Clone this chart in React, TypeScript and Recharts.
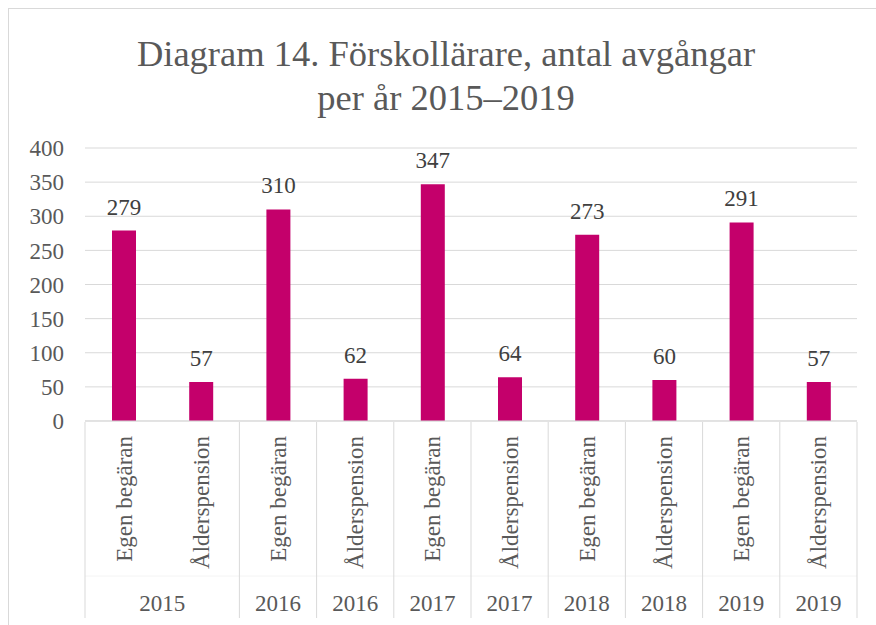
import { BarChart, Bar, XAxis, YAxis, CartesianGrid, LabelList } from "recharts";

const categories = [
  "Egen begäran", "Ålderspension", "Egen begäran", "Ålderspension", "Egen begäran",
  "Ålderspension", "Egen begäran", "Ålderspension", "Egen begäran", "Ålderspension",
];
const values = [279, 57, 310, 62, 347, 64, 273, 60, 291, 57];
const yearLabels = ["2015", "2015", "2016", "2016", "2017", "2017", "2018", "2018", "2019", "2019"];
// how many categories each year label covers (0 = merged into the one before)
const yearSpans = [2, 0, 1, 1, 1, 1, 1, 1, 1, 1];
const yTicks = [0, 50, 100, 150, 200, 250, 300, 350, 400];

const data = categories.map((name, i) => ({ key: i, name, value: values[i], year: yearLabels[i], span: yearSpans[i] }));

const FONT = '"Liberation Serif", "Times New Roman", serif';
const TEXT = "#595959";
const LINE = "#d9d9d9";
const BAR = "#C4006B";

function CatTick(props: any) {
  const { x, y, payload, index } = props;
  const half = payload?.offset || 38.6;
  const row = data[index];
  const last = index === data.length - 1;
  const top = y - 7; // axis line
  return (
    <g>
      <text x={x} y={top + 14} transform={`rotate(-90, ${x}, ${top + 14})`} textAnchor="end" dy="0.35em"
        fill={TEXT} fontSize={23} fontFamily={FONT}>
        {row.name}
      </text>
      {index === 0 && <line x1={x - half} y1={top + 154} x2={x - half + data.length * 2 * half} y2={top + 154} stroke="#f4f4f4" strokeWidth={1} />}
      {row.span > 0 && (
        <>
          <line x1={x - half} y1={top} x2={x - half} y2={top + 196} stroke={LINE} strokeWidth={1} />
          <text x={x - half + row.span * half} y={top + 181} textAnchor="middle" dy="0.35em"
            fill={TEXT} fontSize={23} fontFamily={FONT}>
            {row.year}
          </text>
        </>
      )}
      {last && <line x1={x + half} y1={top} x2={x + half} y2={top + 196} stroke={LINE} strokeWidth={1} />}
    </g>
  );
}

export default function App() {
  return (
    <div style={{ position: "absolute", left: 0, top: 0, width: 876, height: 625, overflow: "hidden", background: "white" }}>
      <div style={{ position: "absolute", left: 8, top: 8, width: 1000, height: 1000, border: `1px solid ${LINE}` }} />
      <div style={{
        position: "absolute", left: 8, top: 32, width: 876, textAlign: "center",
        fontFamily: FONT, fontSize: 36.5, lineHeight: "44px", color: TEXT,
      }}>
        Diagram 14. Förskollärare, antal avgångar<br />per år 2015–2019
      </div>
      <div style={{ position: "absolute", left: 0, top: 0 }}>
        <BarChart width={876} height={625} data={data} margin={{ top: 148, right: 19, bottom: 0, left: 0 }} barSize={24}>
          <CartesianGrid vertical={false} stroke={LINE} />
          <XAxis dataKey="key" interval={0} height={204} axisLine={{ stroke: LINE }} tickLine={false}
            tick={(p: any) => <CatTick {...p} />} />
          <YAxis domain={[0, 400]} ticks={yTicks} width={85} axisLine={false} tickLine={false} tickMargin={15}
            tick={{ fill: TEXT, fontSize: 23, fontFamily: FONT }} />
          <Bar dataKey="value" fill={BAR} isAnimationActive={false}>
            <LabelList dataKey="value" position="top" offset={16} fill="#404040" fontSize={23} fontFamily={FONT} />
          </Bar>
        </BarChart>
      </div>
    </div>
  );
}
